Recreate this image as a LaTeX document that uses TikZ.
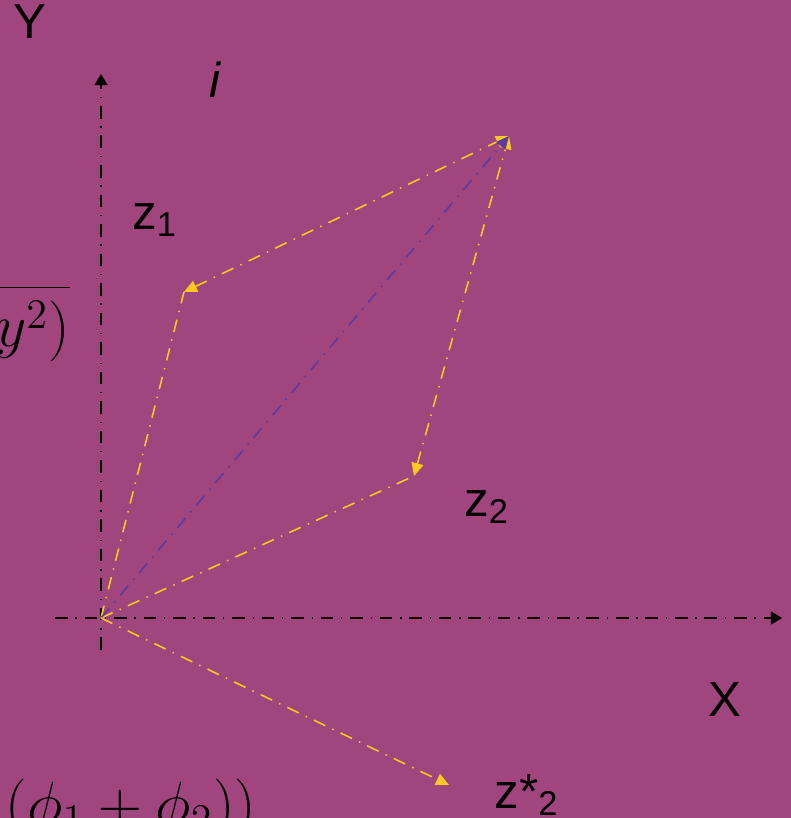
\documentclass[tikz,border=0pt]{standalone}
\usepackage{fontspec}
\setmainfont{Liberation Sans}
\usetikzlibrary{arrows.meta}

\definecolor{bgpurple}{RGB}{161,69,126}
\definecolor{vecyellow}{RGB}{252,202,30}
\definecolor{sumblue}{RGB}{92,58,158}

\tikzset{
  ddot/.style={dash pattern=on 3.6pt off 2.2pt on 0.4pt off 2.2pt},
  axisline/.style={ddot, line width=0.35pt, -{Triangle[length=1.1mm,width=1.3mm]}},
  vecline/.style={ddot, draw=vecyellow, line width=0.45pt},
  vechead/.style={-{Triangle[length=1.3mm,width=1.2mm]}},
  lbl/.style={font=\fontsize{14}{16}\selectfont, inner sep=0pt},
  formula/.style={font=\fontsize{17}{20}\selectfont, inner sep=0pt},
}

\begin{document}
\begin{tikzpicture}[x=0.1mm,y=-0.1mm]

    % --- Canvas ---
    \clip (0,0) rectangle (791,818);
    \fill[bgpurple] (0,0) rectangle (791,818);

    % --- Points ---
    \coordinate (O)   at (101,618);
    \coordinate (xs)  at (55,618);
    \coordinate (xe)  at (782,618);
    \coordinate (ys)  at (101,650);
    \coordinate (ye)  at (101,74);
    \coordinate (z1)  at (184,292);
    \coordinate (z2)  at (414,476);
    \coordinate (sum) at (509,136);
    \coordinate (z2c) at (449,785);

    % --- Axes ---
    \draw[axisline] (xs) -- (xe);
    \draw[axisline] (ys) -- (ye);

    % --- Parallelogram ---
    \draw[vecline] (O) -- (z1);
    \draw[vecline] (O) -- (z2);
    \draw[vecline, {Triangle[length=1.3mm,width=1.2mm]}-{Triangle[length=1.3mm,width=1.2mm]}] (z1) -- (sum);
    \draw[vecline, {Triangle[length=1.3mm,width=1.2mm]}-{Triangle[length=1.3mm,width=1.2mm]}] (z2) -- (sum);
    \draw[ddot, draw=sumblue, line width=0.45pt, vechead] (O) -- (sum);

    % Conjugate
    \draw[vecline, vechead] (O) -- (z2c);

    % --- Labels ---
    \node[lbl] (lY)  at (30,22)   {Y};
    \node[lbl] (li)  at (215,80)  {\itshape i};
    \node[lbl] (lz1) at (155,220) {z\textsubscript{1}};
    \node[lbl] (lz2) at (487,507) {z\textsubscript{2}};
    \node[lbl] (lX)  at (725,700) {X};
    \node[lbl] (lz3) at (527,795) {z*\textsubscript{2}};

    % --- Formulas (cut off at the edges) ---
    \node[formula, anchor=base east] (fmod) at (71,346) {$\sqrt{(x^2+y^2)}$};
    \node[formula, font=\fontsize{18}{22}\selectfont, anchor=base east] (farg) at (257,824) {$(\phi_1+\phi_2))$};

\end{tikzpicture}
\end{document}
